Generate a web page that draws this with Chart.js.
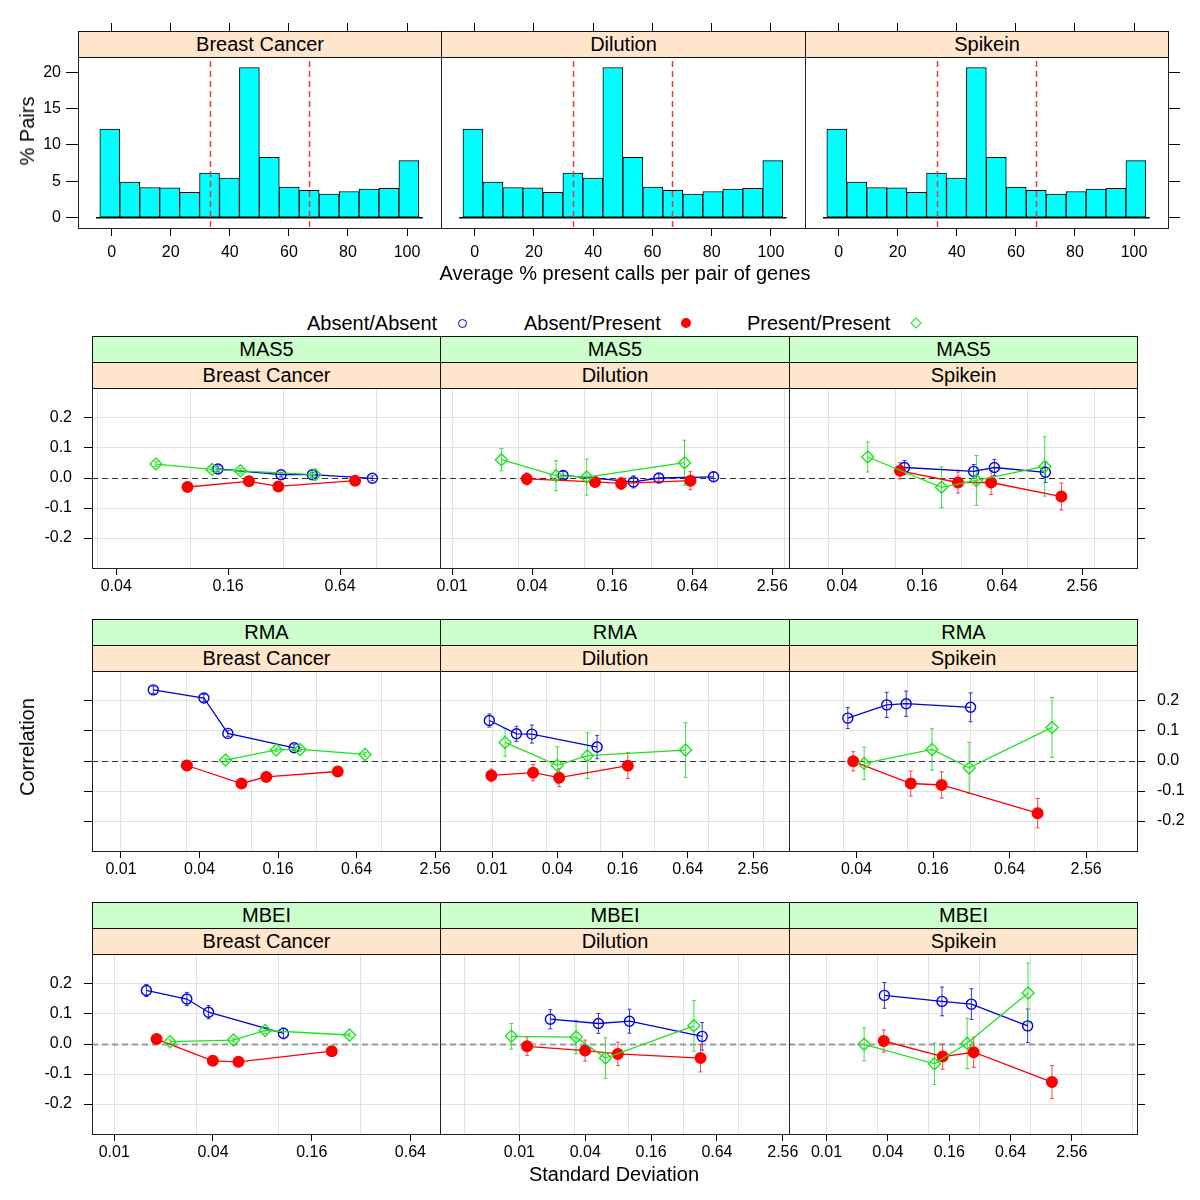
<!DOCTYPE html>
<html>
<head>
<meta charset="utf-8">
<script src="https://cdn.jsdelivr.net/npm/chart.js@4.4.1/dist/chart.umd.min.js"></script>
<style>
  body { margin: 0; background: #fff; width: 1200px; height: 1200px; position: relative; overflow: hidden;
         font-family: "Liberation Sans", Arial, sans-serif; color: #000; }
  canvas { position: absolute; }
  .strip { position: absolute; box-sizing: border-box; border: 1px solid #111; text-align: center;
           font-size: 20px; z-index: 2; }
  .peach { background: #ffe5cc; }
  .green { background: #ccffcc; }
  .lbl { position: absolute; font-size: 20px; white-space: nowrap; line-height: 24px; }
  .ctr { transform: translate(-50%, -50%); }
  .rot { transform: translate(-50%, -50%) rotate(-90deg); }
  .mk { position: absolute; box-sizing: border-box; }
</style>
</head>
<body>
<script>
// ---------- data ----------
const datasetNames = ['Breast Cancer', 'Dilution', 'Spikein'];
const methodNames = ['MAS5', 'RMA', 'MBEI'];
const seriesNames = ['Absent/Absent', 'Absent/Present', 'Present/Present'];

// histogram of % pairs (identical in the three panels)
const histMid = [-0.625, 6.125, 12.875, 19.625, 26.375, 33.125, 39.875, 46.625, 53.375, 60.125, 66.875, 73.625, 80.375, 87.125, 93.875, 100.625];
const histPct = [12.2, 4.9, 4.15, 4.1, 3.5, 6.15, 5.45, 20.65, 8.3, 4.2, 3.75, 3.25, 3.6, 3.95, 4.05, 7.85];
const histCutoffs = [33.3, 66.7];
const histBaseRange = [-5.3, 105.3];
const histXTicks = [0, 20, 40, 60, 80, 100];
const histYTicks = [0, 5, 10, 15, 20];
const histXLim = [-11.4, 111.5];
const histYLim = [-1.42, 22.1];

// correlation vs standard deviation; each array = [Breast Cancer, Dilution, Spikein]
const sdMAS5_AA = [[0.141, 0.308, 0.454, 0.955], [0.0684, 0.2315, 0.359, 0.926], [0.118, 0.391, 0.56, 1.355]];
const corMAS5_AA = [[0.030, 0.011, 0.011, -0.001], [0.0086, -0.013, 0.0, 0.004], [0.035, 0.022, 0.035, 0.019]];
const errMAS5_AA = [[0.01, 0.008, 0.008, 0.008], [0.013, 0.02, 0.013, 0.015], [0.023, 0.023, 0.027, 0.034]];
const sdMAS5_AP = [[0.0967, 0.207, 0.298, 0.771], [0.0365, 0.119, 0.187, 0.621], [0.109, 0.298, 0.529, 1.79]];
const corMAS5_AP = [[-0.030, -0.011, -0.028, -0.009], [-0.003, -0.013, -0.018, -0.009], [0.024, -0.015, -0.015, -0.062]];
const errMAS5_AP = [[0.006, 0.006, 0.006, 0.006], [0.02, 0.015, 0.02, 0.03], [0.027, 0.035, 0.04, 0.045]];
const sdMAS5_PP = [[0.0654, 0.131, 0.186, 0.470], [0.0235, 0.0606, 0.103, 0.56], [0.0623, 0.224, 0.41, 1.34]];
const corMAS5_PP = [[0.0465, 0.0286, 0.024, 0.011], [0.061, 0.0077, 0.003, 0.051], [0.070, -0.031, -0.008, 0.0386]];
const errMAS5_PP = [[0.008, 0.008, 0.008, 0.008], [0.037, 0.05, 0.06, 0.075], [0.05, 0.068, 0.083, 0.099]];

const sdRMA_AA = [[0.0177, 0.0432, 0.066, 0.2126], [0.00944, 0.0168, 0.0233, 0.0932], [0.0342, 0.0692, 0.0984, 0.316]];
const corRMA_AA = [[0.237, 0.210, 0.092, 0.044], [0.135, 0.0907, 0.0897, 0.0465], [0.143, 0.187, 0.191, 0.179]];
const errRMA_AA = [[0.012, 0.012, 0.01, 0.01], [0.022, 0.025, 0.03, 0.039], [0.035, 0.042, 0.042, 0.048]];
const sdRMA_AP = [[0.032, 0.0839, 0.130, 0.459], [0.00985, 0.0239, 0.0416, 0.179], [0.0377, 0.107, 0.187, 1.064]];
const corRMA_AP = [[-0.015, -0.075, -0.053, -0.035], [-0.048, -0.039, -0.0555, -0.0156], [-0.001, -0.075, -0.080, -0.174]];
const errRMA_AP = [[0.006, 0.006, 0.006, 0.006], [0.021, 0.027, 0.03, 0.043], [0.032, 0.042, 0.044, 0.049]];
const sdRMA_PP = [[0.0633, 0.155, 0.236, 0.743], [0.0132, 0.040, 0.0759, 0.61], [0.046, 0.157, 0.308, 1.38]];
const corRMA_PP = [[0.003, 0.037, 0.0385, 0.022], [0.062, -0.0146, 0.0176, 0.0365], [-0.008, 0.0385, -0.023, 0.112]];
const errRMA_PP = [[0.006, 0.006, 0.006, 0.006], [0.046, 0.062, 0.076, 0.091], [0.054, 0.069, 0.085, 0.1]];

const sdMBEI_AA = [[0.0157, 0.0277, 0.0376, 0.1076], [0.0192, 0.0528, 0.1015, 0.469], [0.037, 0.136, 0.264, 0.942]];
const corMBEI_AA = [[0.1785, 0.15, 0.106, 0.0354], [0.0826, 0.0684, 0.076, 0.0255], [0.162, 0.142, 0.133, 0.0605]];
const errMBEI_AA = [[0.02, 0.022, 0.022, 0.018], [0.032, 0.033, 0.04, 0.046], [0.043, 0.048, 0.051, 0.056]];
const sdMBEI_AP = [[0.0181, 0.0399, 0.0572, 0.212], [0.01176, 0.0399, 0.0795, 0.453], [0.0365, 0.138, 0.278, 1.63]];
const corMBEI_AP = [[0.0165, -0.056, -0.0595, -0.024], [-0.0076, -0.022, -0.033, -0.047], [0.01, -0.042, -0.0275, -0.127]];
const errMBEI_AP = [[0.006, 0.006, 0.006, 0.006], [0.031, 0.035, 0.039, 0.046], [0.037, 0.042, 0.05, 0.055]];
const sdMBEI_PP = [[0.0219, 0.0533, 0.0832, 0.272], [0.00845, 0.033, 0.0612, 0.394], [0.0234, 0.1146, 0.24, 0.95]];
const corMBEI_PP = [[0.0076, 0.013, 0.045, 0.030], [0.0255, 0.023, -0.047, 0.0605], [-0.001, -0.066, 0.0023, 0.17]];
const errMBEI_PP = [[0.006, 0.006, 0.01, 0.006], [0.043, 0.056, 0.068, 0.084], [0.055, 0.069, 0.084, 0.1]];

const xTickVals = [0.01, 0.04, 0.16, 0.64, 2.56];
const xTickLabels = ['0.01', '0.04', '0.16', '0.64', '2.56'];
const xGridVals = [0.001, 0.003162, 0.01, 0.03162, 0.1, 0.3162, 1, 3.162, 10];
const yTickVals = [-0.2, -0.1, 0, 0.1, 0.2];
const yTickLabels = ['-0.2', '-0.1', '0.0', '0.1', '0.2'];
const yLim = [-0.3, 0.3];
const xLimMAS5 = [[0.02961, 2.207], [0.008122, 3.42], [0.01591, 6.64]];
const xLimRMA = [[0.005995, 2.791], [0.00331, 5.491], [0.011793, 6.431]];
const xLimMBEI = [[0.007315, 0.9693], [0.0018814, 2.916], [0.004289, 11.13]];

// tables built from the arrays above
const sdTable = { MAS5: [sdMAS5_AA, sdMAS5_AP, sdMAS5_PP], RMA: [sdRMA_AA, sdRMA_AP, sdRMA_PP], MBEI: [sdMBEI_AA, sdMBEI_AP, sdMBEI_PP] };
const corTable = { MAS5: [corMAS5_AA, corMAS5_AP, corMAS5_PP], RMA: [corRMA_AA, corRMA_AP, corRMA_PP], MBEI: [corMBEI_AA, corMBEI_AP, corMBEI_PP] };
const errTable = { MAS5: [errMAS5_AA, errMAS5_AP, errMAS5_PP], RMA: [errRMA_AA, errRMA_AP, errRMA_PP], MBEI: [errMBEI_AA, errMBEI_AP, errMBEI_PP] };
const xLimTable = { MAS5: xLimMAS5, RMA: xLimRMA, MBEI: xLimMBEI };

// ---------- layout / style ----------
const SIDE = 70;
const histLeft = [78, 441, 805], histW = [363, 364, 363];
const HIST_TOP = 57, HIST_H = 171, HIST_TOPPAD = 40, HIST_BOT = 45;
const midLeft = [92, 440, 789], midW = [348, 349, 348];
const rowTop = [388, 671, 954], ROW_H = 180, MID_TOPPAD = 30, MID_BOT = 40;

const seriesColors = ['#0000dd', '#ff0000', '#1ee31e'];
const errColors = ['#3434d6', '#f04848', '#3ee03e'];
const pointStyles = ['circle', 'circle', 'rectRot'];
const pointRadii = [5, 5.3, 6];
const zeroLine = [['#333', 1], ['#333', 1], ['#999', 1.8]];

Chart.defaults.font.family = '"Liberation Sans", Arial, sans-serif';
Chart.defaults.font.size = 16;
Chart.defaults.color = '#000';

function addCanvas(left, top, w, h) {
  const c = document.createElement('canvas');
  c.width = w; c.height = h;
  c.style.left = left + 'px'; c.style.top = top + 'px';
  c.style.width = w + 'px'; c.style.height = h + 'px';
  document.body.appendChild(c);
  return c;
}

function addDiv(cls, html, css) {
  const d = document.createElement('div');
  d.className = cls;
  d.innerHTML = html;
  Object.assign(d.style, css);
  document.body.appendChild(d);
  return d;
}

const frame = {
  id: 'frame',
  afterDraw(chart) {
    const { ctx, chartArea: a } = chart;
    ctx.save();
    ctx.strokeStyle = '#222';
    ctx.lineWidth = 1;
    ctx.strokeRect(a.left + 0.5, a.top + 0.5, a.right - a.left, a.bottom - a.top);
    ctx.restore();
  }
};

const histDecor = {
  id: 'histDecor',
  afterDatasetsDraw(chart) {
    const { ctx, chartArea: a, scales: { x, y } } = chart;
    ctx.save();
    const y0 = y.getPixelForValue(0);
    ctx.strokeStyle = '#000';
    ctx.lineWidth = 1.5;
    ctx.beginPath();
    ctx.moveTo(x.getPixelForValue(histBaseRange[0]), y0);
    ctx.lineTo(x.getPixelForValue(histBaseRange[1]), y0);
    ctx.stroke();
    ctx.strokeStyle = '#e43c3c';
    ctx.setLineDash([6, 4]);
    histCutoffs.forEach(v => {
      const px = Math.round(x.getPixelForValue(v)) + 0.5;
      ctx.beginPath();
      ctx.moveTo(px, a.top + 4);
      ctx.lineTo(px, a.bottom);
      ctx.stroke();
    });
    ctx.restore();
  }
};

// zero reference line and error bars, drawn under the points
const corrDecor = {
  id: 'corrDecor',
  beforeDatasetsDraw(chart) {
    const { ctx, chartArea: a, scales: { x, y } } = chart;
    const zl = chart.options.zeroLine;
    ctx.save();
    ctx.strokeStyle = zl[0];
    ctx.lineWidth = zl[1];
    ctx.setLineDash([6, 4]);
    const y0 = Math.round(y.getPixelForValue(0)) + 0.5;
    ctx.beginPath();
    ctx.moveTo(a.left, y0);
    ctx.lineTo(a.right, y0);
    ctx.stroke();
    ctx.setLineDash([]);
    ctx.lineWidth = 1;
    chart.data.datasets.forEach(ds => {
      ctx.strokeStyle = ds.errColor;
      ds.data.forEach((p, k) => {
        const e = ds.errs[k];
        const px = x.getPixelForValue(p.x);
        const lo = y.getPixelForValue(p.y - e), hi = y.getPixelForValue(p.y + e);
        ctx.beginPath();
        ctx.moveTo(px, lo); ctx.lineTo(px, hi);
        ctx.moveTo(px - 2, lo); ctx.lineTo(px + 2, lo);
        ctx.moveTo(px - 2, hi); ctx.lineTo(px + 2, hi);
        ctx.stroke();
      });
    });
    ctx.restore();
  }
};

function histPanel(c) {
  const cv = addCanvas(histLeft[c] - SIDE, HIST_TOP - HIST_TOPPAD, histW[c] + 2 * SIDE, HIST_H + HIST_TOPPAD + HIST_BOT);
  const xAxis = (pos) => ({
    type: 'linear', position: pos, min: histXLim[0], max: histXLim[1], offset: false,
    grid: { offset: false, drawOnChartArea: false, tickLength: pos === 'top' ? 34 : 8, tickColor: '#000' },
    border: { display: false },
    ticks: { display: pos === 'bottom', padding: 7, maxRotation: 0, autoSkip: false },
    afterBuildTicks: s => { s.ticks = histXTicks.map(v => ({ value: v })); },
    afterFit: s => { s.height = pos === 'top' ? HIST_TOPPAD : HIST_BOT; }
  });
  const yAxis = (pos, show) => ({
    type: 'linear', position: pos, min: histYLim[0], max: histYLim[1],
    grid: { drawOnChartArea: false, drawTicks: show, tickLength: 12, tickColor: '#000' },
    border: { display: false },
    ticks: { display: show && pos === 'left', padding: 5 },
    afterBuildTicks: s => { s.ticks = histYTicks.map(v => ({ value: v })); },
    afterFit: s => { s.width = SIDE; }
  });
  new Chart(cv, {
    type: 'bar',
    data: {
      datasets: [{
        data: histMid.map((m, k) => ({ x: m, y: histPct[k] })),
        backgroundColor: '#00ffff', borderColor: '#000', borderWidth: 1, borderSkipped: false,
        barPercentage: 1, categoryPercentage: 1
      }]
    },
    options: {
      responsive: false, animation: false, events: [],
      layout: { autoPadding: false, padding: 0 },
      plugins: { legend: { display: false }, tooltip: { enabled: false } },
      scales: { x: xAxis('bottom'), xt: xAxis('top'), y: yAxis('left', c === 0), y2: yAxis('right', c === 2) }
    },
    plugins: [histDecor, frame]
  });
  addDiv('strip peach', datasetNames[c], {
    left: histLeft[c] + 'px', top: (HIST_TOP - 26) + 'px', width: (histW[c] + 1) + 'px', height: '27px', lineHeight: '25px'
  });
}

function corrPanel(r, c) {
  const m = methodNames[r];
  const T = rowTop[r];
  const [xmin, xmax] = xLimTable[m][c];
  const cv = addCanvas(midLeft[c] - SIDE, T - MID_TOPPAD, midW[c] + 2 * SIDE, ROW_H + MID_TOPPAD + MID_BOT);
  const datasets = seriesNames.map((name, s) => ({
    label: name,
    data: sdTable[m][s][c].map((v, k) => ({ x: v, y: corTable[m][s][c][k] })),
    errs: errTable[m][s][c],
    errColor: errColors[s],
    showLine: true,
    borderColor: seriesColors[s], borderWidth: 1.3,
    pointStyle: pointStyles[s], pointRadius: pointRadii[s],
    pointBorderColor: seriesColors[s], pointBorderWidth: 1.4,
    pointBackgroundColor: s === 1 ? seriesColors[s] : 'rgba(0,0,0,0)',
    order: 2 - s
  }));
  const yAxis = (pos) => {
    const side = pos === 'left' ? c === 0 : c === 2;
    const labels = side && (pos === 'left' ? r !== 1 : r === 1);
    return {
      type: 'linear', position: pos, min: yLim[0], max: yLim[1],
      grid: { color: '#e2e2e2', drawOnChartArea: pos === 'left', drawTicks: side, tickLength: 8, tickColor: '#000' },
      border: { display: false },
      ticks: { display: labels, padding: 12, callback: v => yTickLabels[yTickVals.indexOf(v)] },
      afterBuildTicks: s => { s.ticks = yTickVals.map(v => ({ value: v })); },
      afterFit: s => { s.width = SIDE; }
    };
  };
  new Chart(cv, {
    type: 'scatter',
    data: { datasets },
    options: {
      responsive: false, animation: false, events: [],
      zeroLine: zeroLine[r],
      layout: { autoPadding: false, padding: { top: MID_TOPPAD } },
      plugins: { legend: { display: false }, tooltip: { enabled: false } },
      scales: {
        x: {
          type: 'logarithmic', position: 'bottom', min: xmin, max: xmax, bounds: 'data',
          grid: { drawOnChartArea: false, tickLength: 7, tickColor: '#000' },
          border: { display: false },
          ticks: { padding: 2, maxRotation: 0, autoSkip: false, callback: v => xTickLabels[xTickVals.indexOf(v)] },
          afterBuildTicks: s => { s.ticks = xTickVals.filter(v => v >= xmin && v <= xmax).map(v => ({ value: v })); },
          afterFit: s => { s.height = MID_BOT; }
        },
        xg: {
          type: 'logarithmic', position: 'bottom', min: xmin, max: xmax, bounds: 'data',
          grid: { color: '#e2e2e2', drawTicks: false },
          border: { display: false },
          ticks: { display: false },
          afterBuildTicks: s => { s.ticks = xGridVals.filter(v => v > xmin && v < xmax).map(v => ({ value: v })); },
          afterFit: s => { s.height = 0; }
        },
        y: yAxis('left'),
        y2: yAxis('right')
      }
    },
    plugins: [corrDecor, frame]
  });
  addDiv('strip green', m, {
    left: midLeft[c] + 'px', top: (T - 52) + 'px', width: (midW[c] + 1) + 'px', height: '27px', lineHeight: '25px'
  });
  addDiv('strip peach', datasetNames[c], {
    left: midLeft[c] + 'px', top: (T - 26) + 'px', width: (midW[c] + 1) + 'px', height: '27px', lineHeight: '25px'
  });
}

for (let c = 0; c < 3; c++) histPanel(c);
for (let r = 0; r < 3; r++) for (let c = 0; c < 3; c++) corrPanel(r, c);

// axis titles
addDiv('lbl rot', '% Pairs', { left: '27px', top: '131px' });
addDiv('lbl ctr', 'Average % present calls per pair of genes', { left: '625px', top: '273px' });
addDiv('lbl rot', 'Correlation', { left: '27px', top: '747px' });
addDiv('lbl ctr', 'Standard Deviation', { left: '614px', top: '1174px' });

// key
const keyText = [307, 524, 747];
const keyMark = [462, 686, 916];
seriesNames.forEach((n, s) => {
  addDiv('lbl', n, { left: keyText[s] + 'px', top: '311px' });
});
addDiv('mk', '', { left: (keyMark[0] - 4.5) + 'px', top: '318.5px', width: '9px', height: '9px', border: '1.4px solid ' + seriesColors[0], borderRadius: '50%' });
addDiv('mk', '', { left: (keyMark[1] - 5) + 'px', top: '318px', width: '10px', height: '10px', background: seriesColors[1], borderRadius: '50%' });
addDiv('mk', '', { left: (keyMark[2] - 4) + 'px', top: '319px', width: '8px', height: '8px', border: '1.4px solid ' + seriesColors[2], transform: 'rotate(45deg)' });
</script>
</body>
</html>
